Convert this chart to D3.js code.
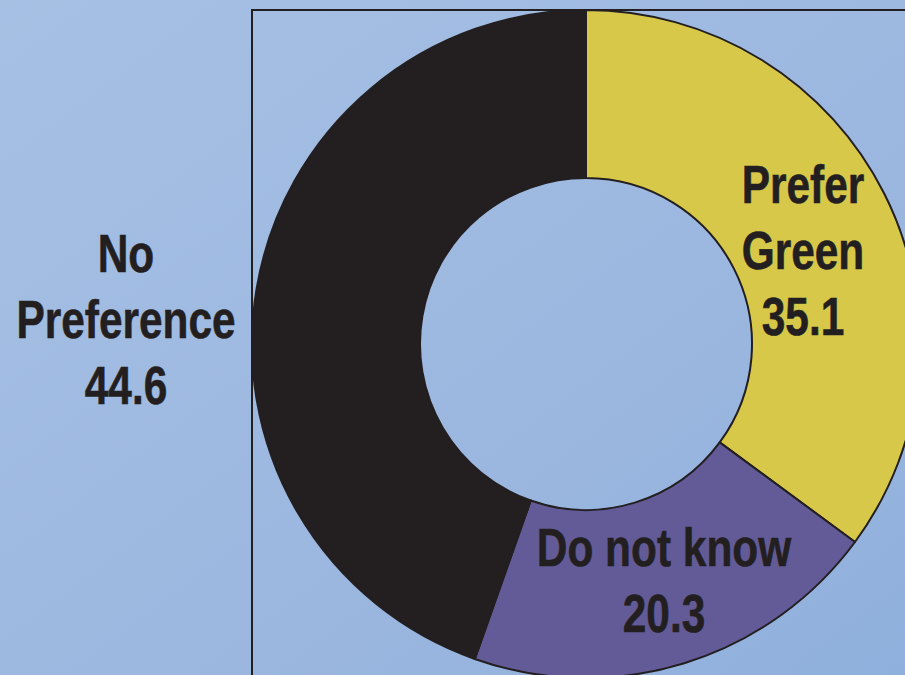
<!DOCTYPE html>
<html>
<head>
<meta charset="utf-8">
<script src="https://cdn.jsdelivr.net/npm/d3@7"></script>
<style>
  html, body { margin: 0; padding: 0; overflow: hidden; }
  svg { display: block; }
</style>
</head>
<body>
<svg id="chart" width="905" height="675"></svg>
<script>
// Survey shares (percent)
const categories = ["Prefer Green", "Do not know", "No Preference"];
const values = [35.1, 20.3, 44.6];
const labelLines = [["Prefer", "Green"], ["Do not know"], ["No", "Preference"]];
const colors = ["#d8c84a", "#625b97", "#231f20"];

const W = 905, H = 675;
const cx = 586, cy = 344, outerR = 334, innerR = 166;
const ink = "#231f20";

const svg = d3.select("#chart");

// Background gradient
const defs = svg.append("defs");
const grad = defs.append("linearGradient").attr("id", "bg")
  .attr("x1", "0%").attr("y1", "0%").attr("x2", "100%").attr("y2", "100%");
grad.append("stop").attr("offset", "0%").attr("stop-color", "#a6c0e4");
grad.append("stop").attr("offset", "55%").attr("stop-color", "#9db8e0");
grad.append("stop").attr("offset", "100%").attr("stop-color", "#8fb0dc");
svg.append("rect").attr("width", W).attr("height", H).attr("fill", "url(#bg)");

// Frame around the plot area (open to the right and bottom)
svg.append("path")
  .attr("d", d3.line()([[252, H + 5], [252, 10], [W + 5, 10]]))
  .attr("fill", "none").attr("stroke", ink).attr("stroke-width", 2);

// Donut
const pie = d3.pie().sort(null).value(d => d)
  .startAngle(0).endAngle(2 * Math.PI);
const arcs = pie(values);
const arc = d3.arc().innerRadius(innerR).outerRadius(outerR);

const g = svg.append("g").attr("transform", `translate(${cx},${cy})`);
g.selectAll("path.slice")
  .data(arcs)
  .join("path")
  .attr("class", "slice")
  .attr("d", arc)
  .attr("fill", (d, i) => colors[i])
  .attr("stroke", ink)
  .attr("stroke-width", 2)
  .attr("stroke-linejoin", "round");

// Labels: text lines followed by the value
const fontSize = 53, lineGap = 66, squeeze = 0.8;
const labelAnchors = [
  { x: 803, y: 203 },   // first baseline
  { x: 664, y: 566 },
  { x: 126, y: 272 }
];

arcs.forEach((a, i) => {
  const lines = labelLines[i].concat([values[i].toFixed(1)]);
  const p = labelAnchors[i];
  const t = svg.append("g")
    .attr("transform", `translate(${p.x},${p.y}) scale(${squeeze},1)`);
  lines.forEach((ln, k) => {
    t.append("text")
      .attr("x", 0)
      .attr("y", k * lineGap)
      .attr("text-anchor", "middle")
      .attr("font-family", "'Liberation Sans', Arial, sans-serif")
      .attr("font-weight", "bold")
      .attr("font-size", fontSize)
      .attr("fill", ink)
      .attr("stroke", ink)
      .attr("stroke-width", 0.6)
      .text(ln);
  });
});
</script>
</body>
</html>
